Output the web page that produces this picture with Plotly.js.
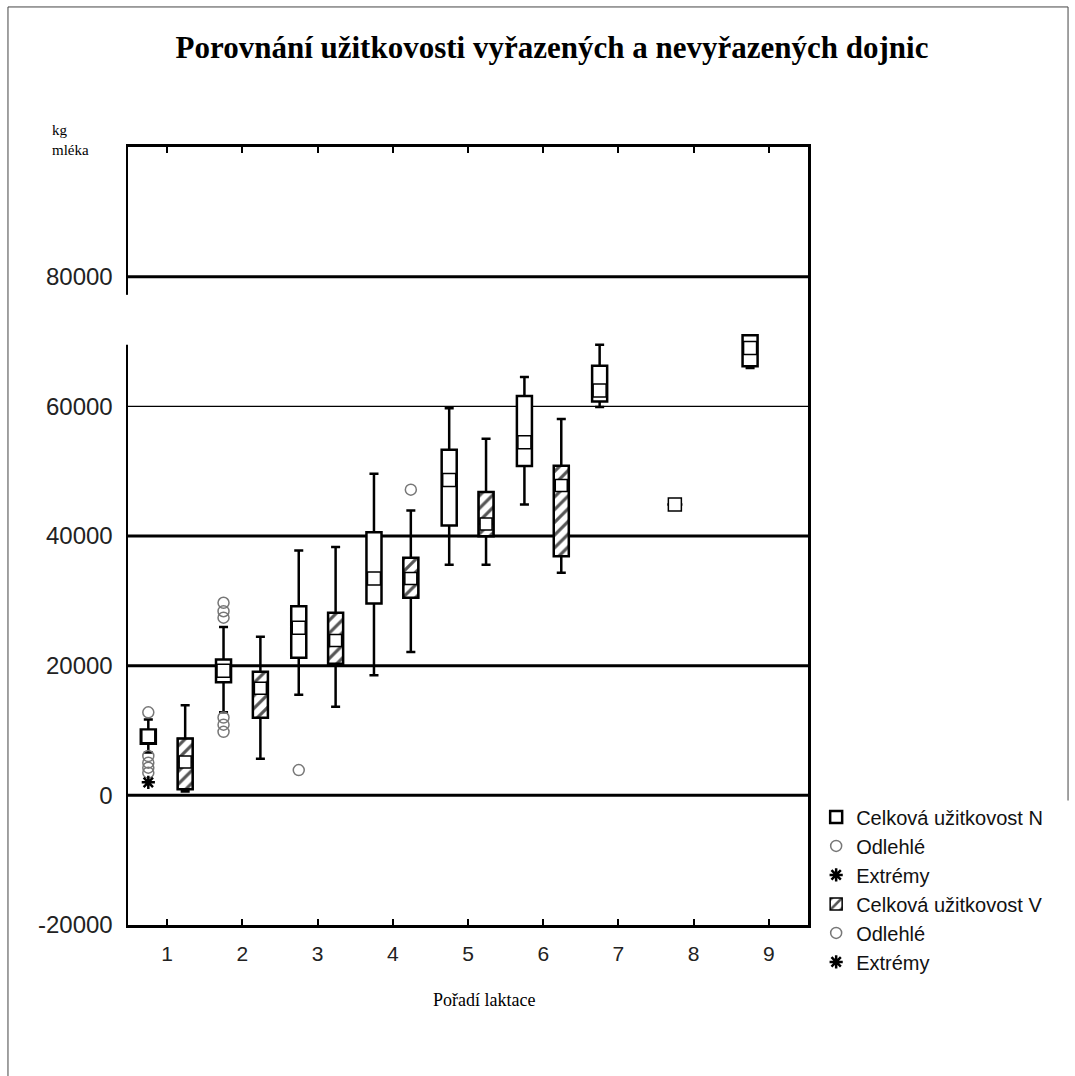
<!DOCTYPE html>
<html>
<head>
<meta charset="utf-8">
<script src="https://cdn.plot.ly/plotly-3.0.1.min.js"></script>
<style>html,body{margin:0;padding:0;background:#fff;}#chart{width:1075px;height:1076px;}</style>
</head>
<body>
<div id="chart"></div>
<script>
// ---- data ----
const categories = [1, 2, 3, 4, 5, 6, 7, 8, 9];
const tickLabels = ['1', '2', '3', '4', '5', '6', '7', '8', '9'];

// Celková užitkovost N (not culled)
const nQ1     = [7970, 17460, 21220, 29590, 41610, 50800, 60760, 44840, 66200];
const nMedian = [9100, 19200, 25840, 33440, 48650, 54470, 62460, 44840, 68980];
const nQ3     = [10170, 20960, 29170, 40580, 53320, 61590, 66260, 44840, 70980];
const nLow    = [6600, 12800, 15520, 18540, 35550, 44840, 59900, 44840, 65900];
const nHigh   = [11700, 25950, 37750, 49620, 59700, 64520, 69500, 44840, 70980];
const nOutlierCat = [1, 1, 1, 1, 1, 2, 2, 2, 2, 2, 2, 3];
const nOutlierVal = [12800, 6060, 5040, 4270, 3500, 29700, 28400, 27400, 12000, 10900, 9800, 3900];
const nExtremeCat = [1];
const nExtremeVal = [2000];

// Celková užitkovost V (culled)
const vCategories = [1, 2, 3, 4, 5, 6];
const vQ1     = [920, 11970, 20290, 30470, 39960, 36880];
const vMedian = [5160, 16530, 23900, 33440, 41840, 47770];
const vQ3     = [8780, 19060, 28150, 36630, 46800, 50850];
const vLow    = [600, 5650, 13670, 22100, 35550, 34320];
const vHigh   = [13900, 24450, 38320, 43920, 55010, 58050];
const vOutlierCat = [4];
const vOutlierVal = [47150];
const vExtremeCat = [];
const vExtremeVal = [];

const yTickVals = [-20000, 0, 20000, 40000, 60000, 80000];
const yTickLabels = ['-20000', '0', '20000', '40000', '60000', '80000'];
const gridVals = [0, 20000, 40000, 60000, 80000];

// ---- styling / layout ----
const gridWidths = [3, 3, 3, 1.2, 3];
const nShift = -0.25, vShift = 0.24, boxW = 0.2;
const shiftN = a => a.map(c => c + nShift);
const shiftV = a => a.map(c => c + vShift);

const boxLine = {color: 'black', width: 2.5};
const traces = [
  { // hatched fill for V boxes (drawn under the box outlines)
    type: 'bar', name: 'Celková užitkovost V', legendrank: 4,
    x: shiftV(vCategories), base: vQ1, y: vQ3.map((q, i) => q - vQ1[i]), width: boxW,
    marker: {color: 'white', line: {color: 'black', width: 1.5},
      pattern: {shape: '/', fgcolor: '#555', bgcolor: 'white', size: 9, solidity: 0.35}},
    hoverinfo: 'skip'
  },
  {
    type: 'box', name: 'Celková užitkovost N', legendrank: 1,
    x: shiftN(categories), q1: nQ1, median: nMedian, q3: nQ3, lowerfence: nLow, upperfence: nHigh,
    width: boxW, whiskerwidth: 0.6, fillcolor: 'white', line: boxLine, boxpoints: false
  },
  {
    type: 'box', name: 'Celková užitkovost V box', showlegend: false,
    x: shiftV(vCategories), q1: vQ1, median: vMedian, q3: vQ3, lowerfence: vLow, upperfence: vHigh,
    width: boxW, whiskerwidth: 0.6, fillcolor: 'rgba(0,0,0,0)', line: boxLine, boxpoints: false
  },
  {
    type: 'scatter', mode: 'markers', showlegend: false, hoverinfo: 'skip',
    x: shiftN(categories), y: nMedian,
    marker: {symbol: 'square', size: 13, color: 'white', line: {color: 'black', width: 1.5}}
  },
  {
    type: 'scatter', mode: 'markers', showlegend: false, hoverinfo: 'skip',
    x: shiftV(vCategories), y: vMedian,
    marker: {symbol: 'square', size: 12, color: 'white', line: {color: 'black', width: 1.5}}
  },
  {
    type: 'scatter', mode: 'markers', name: 'Odlehlé', legendrank: 2,
    x: shiftN(nOutlierCat), y: nOutlierVal,
    marker: {symbol: 'circle-open', size: 11, color: '#777', line: {width: 1.5}}
  },
  {
    type: 'scatter', mode: 'markers', name: 'Extrémy', legendrank: 3,
    x: shiftN(nExtremeCat), y: nExtremeVal,
    marker: {symbol: 'asterisk-open', size: 11, color: 'black', line: {width: 2.5, color: 'black'}}
  },
  {
    type: 'scatter', mode: 'markers', name: 'Odlehlé', legendrank: 5,
    x: shiftV(vOutlierCat), y: vOutlierVal,
    marker: {symbol: 'circle-open', size: 11, color: '#777', line: {width: 1.5}}
  },
  {
    type: 'scatter', mode: 'markers', name: 'Extrémy', legendrank: 6,
    x: vExtremeCat.length ? shiftV(vExtremeCat) : [null], y: vExtremeVal.length ? vExtremeVal : [null],
    marker: {symbol: 'asterisk-open', size: 11, color: 'black', line: {width: 2.5, color: 'black'}}
  }
];

const shapes = gridVals.map((v, i) => ({
  type: 'line', xref: 'paper', yref: 'y', x0: 0, x1: 1, y0: v, y1: v,
  line: {color: 'black', width: gridWidths[i]}, layer: 'below'
}));
// gap in the left axis line and outer frame of the figure
shapes.push({type: 'line', xref: 'paper', yref: 'y', x0: 0, x1: 0, y0: 69500, y1: 77200,
  line: {color: 'white', width: 4}, layer: 'above'});
shapes.push({type: 'line', xref: 'paper', yref: 'paper', x0: -0.1765, x1: -0.1765, y0: 1.18, y1: -0.2,
  line: {color: '#444', width: 1}});
shapes.push({type: 'line', xref: 'paper', yref: 'paper', x0: -0.1765, x1: 1.3824, y0: 1.18, y1: 1.18,
  line: {color: '#444', width: 1}});
shapes.push({type: 'line', xref: 'paper', yref: 'paper', x0: 1.3824, x1: 1.3824, y0: 1.18, y1: 0.16,
  line: {color: '#444', width: 1}});

const layout = {
  width: 1075, height: 1076,
  paper_bgcolor: 'white', plot_bgcolor: 'white',
  margin: {l: 128, r: 267, t: 147, b: 151},
  title: {text: 'Porovnání užitkovosti vyřazených a nevyřazených dojnic',
    font: {family: 'Liberation Serif', size: 31, color: 'black', weight: 'bold'},
    xref: 'paper', x: 0.6235, xanchor: 'center', yref: 'container', y: 0.956, yanchor: 'middle'},
  showlegend: true,
  legend: {x: 1.012, xanchor: 'left', y: 0.164, yanchor: 'top', tracegroupgap: 0,
    font: {family: 'Liberation Sans', size: 20, color: '#111'}, bgcolor: 'rgba(0,0,0,0)'},
  xaxis: {range: [0.48, 9.52], tickmode: 'array', tickvals: categories, ticktext: tickLabels,
    ticks: 'inside', ticklen: 6, tickwidth: 2, tickcolor: 'black',
    showline: true, linewidth: 3, linecolor: 'black', mirror: 'ticks',
    showgrid: false, zeroline: false, ticklabelstandoff: 8,
    tickfont: {family: 'Liberation Sans', size: 21, color: '#222'}},
  yaxis: {range: [-20000, 100000], tickmode: 'array', tickvals: yTickVals, ticktext: yTickLabels,
    ticks: '', showline: true, linewidth: 2.5, linecolor: 'black', mirror: true,
    showgrid: false, zeroline: false, ticklabelstandoff: 8,
    tickfont: {family: 'Liberation Sans', size: 24, color: '#222'}},
  annotations: [
    {text: 'Pořadí laktace', xref: 'paper', yref: 'paper', x: 0.5235, y: -0.0964,
      xanchor: 'center', yanchor: 'middle', showarrow: false,
      font: {family: 'Liberation Serif', size: 18, color: 'black'}},
    {text: 'kg<br>mléka', xref: 'paper', yref: 'paper', x: -0.1147, y: 1.0347,
      xanchor: 'left', yanchor: 'top', align: 'left', showarrow: false,
      font: {family: 'Liberation Serif', size: 15, color: 'black'}}
  ],
  shapes: shapes,
  bargap: 0
};

Plotly.newPlot('chart', traces, layout, {displayModeBar: false, staticPlot: true});
</script>
</body>
</html>
